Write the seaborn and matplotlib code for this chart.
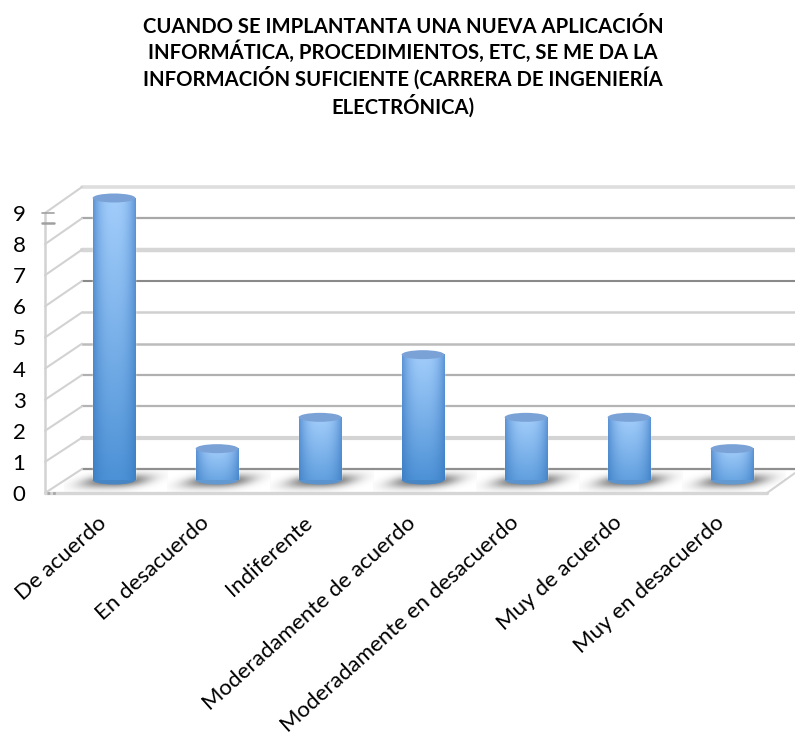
import numpy as np
import pandas as pd
import matplotlib
matplotlib.use("Agg")
import matplotlib.pyplot as plt
import seaborn as sns
from matplotlib.patches import Ellipse
from matplotlib.transforms import ScaledTranslation

title_text = ("CUANDO SE IMPLANTANTA UNA NUEVA APLICACIÓN\n"
              "INFORMÁTICA, PROCEDIMIENTOS, ETC, SE ME DA LA\n"
              "INFORMACIÓN SUFICIENTE (CARRERA DE INGENIERÍA\n"
              "ELECTRÓNICA)")
categories = ["De acuerdo", "En desacuerdo", "Indiferente", "Moderadamente de acuerdo",
              "Moderadamente en desacuerdo", "Muy de acuerdo", "Muy en desacuerdo"]
values = [9, 1, 2, 4, 2, 2, 1]
y_ticks = list(range(10))
grid_colors = ["#8f8f8f", "#d4d4d4", "#b4b4b4", "#b0b0b0", "#bcbcbc",
               "#d0d0d0", "#8a8a8a", "#d6d6d6", "#a8a8a8", "#dedede"]
grid_widths = [1.6, 3.0, 1.6, 1.6, 1.8, 1.8, 1.5, 3.2, 1.6, 2.6]

sns.set_theme(style="white")
plt.rcParams["font.family"] = ["Lato", "DejaVu Sans"]

W, H = 795, 736
fig = plt.figure(figsize=(W / 100, H / 100), dpi=100, facecolor="white")


def px_axes(x0, x1, ytop, ybot):
    return fig.add_axes([x0 / W, 1 - ybot / H, (x1 - x0) / W, (ybot - ytop) / H])


XLIM = (-0.67, 6.32)

# back wall
ax_back = px_axes(82, 795, 187, 469)
ax_back.set_ylim(0, 9)
ax_back.set_xlim(0, 1)
ax_back.set_xticks([])
ax_back.set_yticks(y_ticks)
ax_back.tick_params(left=False, labelleft=False)
sns.despine(ax=ax_back, left=True, bottom=True)
ax_back.patch.set_visible(False)
for v, c, lw in zip(y_ticks, grid_colors, grid_widths):
    ax_back.axhline(v, color=c, lw=lw, clip_on=False)
ax_back.set_zorder(1)

# pixel-space overlay: side wall, floor, shadows
deco = fig.add_axes([0, 0, 1, 1])
deco.set_xlim(0, W)
deco.set_ylim(H, 0)
deco.axis("off")
deco.set_zorder(2)
wall_c = "#d2d2d2"
for v in y_ticks:
    fy = 493 - v * 280 / 9
    by = 469 - v * 282 / 9
    deco.plot([45, 82], [fy, by], color=wall_c, lw=1.5, solid_capstyle="round")
deco.plot([45, 45], [213, 493], color=wall_c, lw=1.8)
deco.plot([45, 767], [493, 493], color="#d6d6d6", lw=2.4)
deco.plot([767, 795], [493, 473], color="#d4d4d4", lw=1.5)
deco.plot([42, 54], [213, 213], color="#a0a0a0", lw=1.2)
deco.plot([42, 54], [223, 223], color="#a0a0a0", lw=1.8)
deco.plot([47, 56], [493, 493], color="#a8a8a8", lw=2.0, ls=(0, (1, 1)))

# bars plane
ax_bar = px_axes(45, 765, 198, 480)
df = pd.DataFrame({"categoria": categories, "valor": values})
BAR_W = 0.415
sns.barplot(data=df, x="categoria", y="valor", ax=ax_bar, width=BAR_W,
            color="#5b9bd5", saturation=1, order=categories)
ax_bar.set_xlim(*XLIM)
ax_bar.set_ylim(0, 9)
ax_bar.axis("off")
ax_bar.set_zorder(3)
ax_bar.patch.set_visible(False)

ew = BAR_W
eh = 9 / (282 / 9)

nx, ny = 80, 120
u = np.linspace(-1, 1, nx)
t = np.linspace(0, 1, ny)
edge_top = np.array([0.36, 0.58, 0.84])
edge_bot = np.array([0.24, 0.50, 0.77])
mid_top = np.array([0.63, 0.80, 0.98])
mid_bot = np.array([0.30, 0.57, 0.84])


def cylinder(v):
    # taller bars reach their darkest colour at the base; short ones stay lighter
    depth = min(1.0, 0.55 + v / 9)
    img = np.zeros((ny, nx, 3))
    shape = (1 - np.abs(u) ** 2.6)[:, None]
    for j, tt in enumerate(t):
        k = (tt * depth) ** 1.1
        e = edge_top + (edge_bot - edge_top) * k
        m = mid_top + (mid_bot - mid_top) * k
        img[j] = e + (m - e) * shape
    return img


for i, (cat, v) in enumerate(zip(categories, values)):
    cx = 114 + 103 * i
    # soft skewed floor shadow
    sx = np.linspace(-1, 1, 120)
    sy = np.linspace(-1, 1, 40)
    X, Y = np.meshgrid(sx, sy)
    Xs = X + 0.30 * Y
    a = np.exp(-np.abs(Xs / 0.62) ** 3 - (Y / 0.62) ** 2) * 0.85
    rgba = np.zeros(a.shape + (4,))
    rgba[..., :3] = 0.36
    rgba[..., 3] = a
    deco.imshow(rgba, extent=(cx - 50, cx + 54, 492, 470), aspect="auto", zorder=3)

    x0, x1 = i - BAR_W / 2, i + BAR_W / 2
    img = cylinder(v)
    ax_bar.add_patch(Ellipse((i, 0), ew, eh, facecolor=img[-1, nx // 2] * 0.92, edgecolor="none",
                             zorder=3, clip_on=False))
    im = ax_bar.imshow(img, extent=(x0, x1, 0, v), aspect="auto", zorder=4)
    im.set_clip_on(False)
    ax_bar.add_patch(Ellipse((i, v), ew, eh, facecolor="#7ba2d6", edgecolor="none",
                             zorder=5, clip_on=False))
ax_bar.set_xlim(*XLIM)
ax_bar.set_ylim(0, 9)
deco.set_xlim(0, W)
deco.set_ylim(H, 0)

# front plane: tick labels
ax = px_axes(45, 765, 213, 493)
ax.set_xlim(*XLIM)
ax.set_ylim(0, 9)
ax.patch.set_visible(False)
sns.despine(ax=ax, left=True, bottom=True)
ax.set_yticks(y_ticks)
ax.set_yticklabels([str(v) for v in y_ticks], fontsize=16, color="black")
ax.tick_params(axis="y", length=0, pad=14)
ax.set_xticks(range(len(categories)))
ax.set_xticklabels(categories, rotation=42, ha="right", va="top",
                   rotation_mode="anchor", fontsize=16, color="black")
ax.tick_params(axis="x", length=0, pad=14)
shift = ScaledTranslation(-17 / 100, 0, fig.dpi_scale_trans)
for lab in ax.get_xticklabels():
    lab.set_transform(lab.get_transform() + shift)
ax.set_zorder(4)

fig.text(403 / W, 1 - 67 / H, title_text, ha="center", va="center", fontsize=14.6,
         fontweight="bold", color="black", linespacing=1.2)

fig.savefig("out.png", dpi=100, facecolor="white")
